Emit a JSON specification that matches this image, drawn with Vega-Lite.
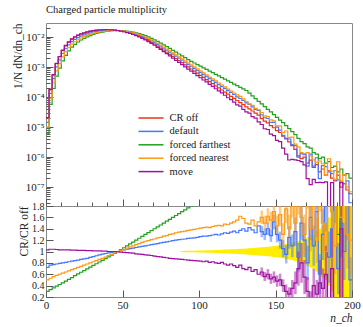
{
"$schema":"https://vega.github.io/schema/vega-lite/v6.json",
"padding":{"left":11,"top":4,"right":4,"bottom":2},
"spacing":0,
"bounds":"flush",
"config":{"font":"Liberation Serif","view":{"stroke":"#888","strokeWidth":1},
"axis":{"labelFont":"Liberation Serif","titleFont":"Liberation Serif","labelFontSize":11,"titleFontSize":11.5,"titleFontWeight":"normal","grid":false,"domain":false,"tickColor":"#555","labelColor":"#222","titleColor":"#222","labelOverlap":false,"labelFlush":false,"labelBound":false}},
"resolve":{"scale":{"color":"independent"}},
"datasets":{
"h":[
{"x":0,"r":2.0e-5,"b":1.44e-5,"g":6.0e-6,"o":1.0e-5,"m":2.06e-5,"rb":0.72,"rg":0.30,"ro":0.50,"rm":1.03},
{"x":2,"r":1.74e-4,"b":1.32e-4,"g":5.74e-5,"o":9.22e-5,"m":1.81e-4,"rb":0.76,"rg":0.33,"ro":0.53,"rm":1.04},
{"x":4,"r":5.37e-4,"b":4.13e-4,"g":1.93e-4,"o":3.01e-4,"m":5.58e-4,"rb":0.77,"rg":0.36,"ro":0.56,"rm":1.04},
{"x":6,"r":1.29e-3,"b":1.01e-3,"g":5.03e-4,"o":7.48e-4,"m":1.335e-3,"rb":0.78,"rg":0.39,"ro":0.58,"rm":1.035},
{"x":8,"r":2.19e-3,"b":1.73e-3,"g":9.2e-4,"o":1.31e-3,"m":2.256e-3,"rb":0.79,"rg":0.42,"ro":0.60,"rm":1.03},
{"x":10,"r":3.55e-3,"b":2.84e-3,"g":1.6e-3,"o":2.2e-3,"m":3.657e-3,"rb":0.80,"rg":0.45,"ro":0.62,"rm":1.03},
{"x":12,"r":5.13e-3,"b":4.16e-3,"g":2.46e-3,"o":3.28e-3,"m":5.28e-3,"rb":0.81,"rg":0.48,"ro":0.64,"rm":1.03},
{"x":14,"r":6.76e-3,"b":5.54e-3,"g":3.45e-3,"o":4.46e-3,"m":6.96e-3,"rb":0.82,"rg":0.51,"ro":0.66,"rm":1.03},
{"x":16,"r":8.51e-3,"b":7.06e-3,"g":4.6e-3,"o":5.79e-3,"m":8.72e-3,"rb":0.83,"rg":0.54,"ro":0.68,"rm":1.025},
{"x":18,"r":1.0e-2,"b":8.4e-3,"g":5.75e-3,"o":7.0e-3,"m":1.025e-2,"rb":0.84,"rg":0.575,"ro":0.70,"rm":1.025},
{"x":20,"r":1.135e-2,"b":9.65e-3,"g":6.87e-3,"o":8.17e-3,"m":1.158e-2,"rb":0.85,"rg":0.605,"ro":0.72,"rm":1.02},
{"x":22,"r":1.259e-2,"b":1.083e-2,"g":7.99e-3,"o":9.32e-3,"m":1.284e-2,"rb":0.86,"rg":0.635,"ro":0.74,"rm":1.02},
{"x":24,"r":1.365e-2,"b":1.188e-2,"g":9.08e-3,"o":1.037e-2,"m":1.392e-2,"rb":0.87,"rg":0.665,"ro":0.76,"rm":1.02},
{"x":26,"r":1.462e-2,"b":1.287e-2,"g":1.016e-2,"o":1.14e-2,"m":1.484e-2,"rb":0.88,"rg":0.695,"ro":0.78,"rm":1.015},
{"x":28,"r":1.549e-2,"b":1.386e-2,"g":1.123e-2,"o":1.239e-2,"m":1.572e-2,"rb":0.895,"rg":0.725,"ro":0.80,"rm":1.015},
{"x":30,"r":1.622e-2,"b":1.476e-2,"g":1.225e-2,"o":1.33e-2,"m":1.638e-2,"rb":0.91,"rg":0.755,"ro":0.82,"rm":1.01},
{"x":32,"r":1.679e-2,"b":1.553e-2,"g":1.318e-2,"o":1.41e-2,"m":1.696e-2,"rb":0.925,"rg":0.785,"ro":0.84,"rm":1.01},
{"x":34,"r":1.718e-2,"b":1.615e-2,"g":1.4e-2,"o":1.477e-2,"m":1.735e-2,"rb":0.94,"rg":0.815,"ro":0.86,"rm":1.01},
{"x":36,"r":1.746e-2,"b":1.667e-2,"g":1.475e-2,"o":1.536e-2,"m":1.755e-2,"rb":0.955,"rg":0.845,"ro":0.88,"rm":1.005},
{"x":38,"r":1.758e-2,"b":1.696e-2,"g":1.538e-2,"o":1.582e-2,"m":1.767e-2,"rb":0.965,"rg":0.875,"ro":0.90,"rm":1.005},
{"x":40,"r":1.754e-2,"b":1.71e-2,"g":1.587e-2,"o":1.631e-2,"m":1.754e-2,"rb":0.975,"rg":0.905,"ro":0.93,"rm":1.0},
{"x":42,"r":1.738e-2,"b":1.712e-2,"g":1.625e-2,"o":1.651e-2,"m":1.738e-2,"rb":0.985,"rg":0.935,"ro":0.95,"rm":1.0},
{"x":44,"r":1.706e-2,"b":1.694e-2,"g":1.646e-2,"o":1.663e-2,"m":1.706e-2,"rb":0.993,"rg":0.965,"ro":0.975,"rm":1.0},
{"x":46,"r":1.66e-2,"b":1.66e-2,"g":1.66e-2,"o":1.66e-2,"m":1.652e-2,"rb":1.0,"rg":1.0,"ro":1.0,"rm":0.995},
{"x":48,"r":1.6e-2,"b":1.624e-2,"g":1.653e-2,"o":1.632e-2,"m":1.584e-2,"rb":1.015,"rg":1.033,"ro":1.02,"rm":0.99},
{"x":50,"r":1.528e-2,"b":1.574e-2,"g":1.629e-2,"o":1.589e-2,"m":1.505e-2,"rb":1.03,"rg":1.066,"ro":1.04,"rm":0.985},
{"x":52,"r":1.445e-2,"b":1.503e-2,"g":1.59e-2,"o":1.532e-2,"m":1.416e-2,"rb":1.04,"rg":1.1,"ro":1.06,"rm":0.98},
{"x":54,"r":1.355e-2,"b":1.423e-2,"g":1.535e-2,"o":1.463e-2,"m":1.321e-2,"rb":1.05,"rg":1.133,"ro":1.08,"rm":0.975},
{"x":56,"r":1.259e-2,"b":1.335e-2,"g":1.468e-2,"o":1.385e-2,"m":1.221e-2,"rb":1.06,"rg":1.166,"ro":1.10,"rm":0.97},
{"x":58,"r":1.159e-2,"b":1.24e-2,"g":1.391e-2,"o":1.298e-2,"m":1.113e-2,"rb":1.07,"rg":1.2,"ro":1.12,"rm":0.96},
{"x":60,"r":1.057e-2,"b":1.142e-2,"g":1.303e-2,"o":1.205e-2,"m":1.009e-2,"rb":1.08,"rg":1.233,"ro":1.14,"rm":0.955},
{"x":62,"r":9.55e-3,"b":1.041e-2,"g":1.209e-2,"o":1.108e-2,"m":9.07e-3,"rb":1.09,"rg":1.266,"ro":1.16,"rm":0.95},
{"x":64,"r":8.55e-3,"b":9.41e-3,"g":1.112e-2,"o":1.009e-2,"m":8.04e-3,"rb":1.1,"rg":1.3,"ro":1.18,"rm":0.94},
{"x":66,"r":7.59e-3,"b":8.42e-3,"g":1.012e-2,"o":9.03e-3,"m":7.1e-3,"rb":1.11,"rg":1.333,"ro":1.19,"rm":0.935},
{"x":68,"r":6.67e-3,"b":7.47e-3,"g":9.11e-3,"o":8.07e-3,"m":6.2e-3,"rb":1.12,"rg":1.366,"ro":1.21,"rm":0.93},
{"x":70,"r":5.81e-3,"b":6.57e-3,"g":8.13e-3,"o":7.09e-3,"m":5.35e-3,"rb":1.13,"rg":1.4,"ro":1.22,"rm":0.92},
{"x":72,"r":5.01e-3,"b":5.71e-3,"g":7.18e-3,"o":6.21e-3,"m":4.56e-3,"rb":1.14,"rg":1.433,"ro":1.24,"rm":0.91},
{"x":74,"r":4.31e-3,"b":4.96e-3,"g":6.32e-3,"o":5.39e-3,"m":3.9e-3,"rb":1.15,"rg":1.466,"ro":1.25,"rm":0.905},
{"x":76,"r":3.68e-3,"b":4.27e-3,"g":5.52e-3,"o":4.67e-3,"m":3.29e-3,"rb":1.16,"rg":1.5,"ro":1.27,"rm":0.895},
{"x":78,"r":3.13e-3,"b":3.66e-3,"g":4.8e-3,"o":4.01e-3,"m":2.79e-3,"rb":1.17,"rg":1.533,"ro":1.28,"rm":0.89},
{"x":80,"r":2.67e-3,"b":3.15e-3,"g":4.18e-3,"o":3.47e-3,"m":2.35e-3,"rb":1.18,"rg":1.566,"ro":1.3,"rm":0.88},
{"x":82,"r":2.27e-3,"b":2.7e-3,"g":3.63e-3,"o":2.97e-3,"m":1.99e-3,"rb":1.19,"rg":1.6,"ro":1.31,"rm":0.875},
{"x":84,"r":1.93e-3,"b":2.32e-3,"g":3.15e-3,"o":2.57e-3,"m":1.68e-3,"rb":1.2,"rg":1.633,"ro":1.33,"rm":0.87},
{"x":86,"r":1.64e-3,"b":1.98e-3,"g":2.73e-3,"o":2.2e-3,"m":1.42e-3,"rb":1.21,"rg":1.666,"ro":1.34,"rm":0.865},
{"x":88,"r":1.4e-3,"b":1.7e-3,"g":2.38e-3,"o":1.89e-3,"m":1.2e-3,"rb":1.215,"rg":1.7,"ro":1.35,"rm":0.86},
{"x":90,"r":1.19e-3,"b":1.45e-3,"g":2.06e-3,"o":1.62e-3,"m":1.02e-3,"rb":1.22,"rg":1.733,"ro":1.36,"rm":0.855},
{"x":92,"r":1.01e-3,"b":1.24e-3,"g":1.78e-3,"o":1.38e-3,"m":8.59e-4,"rb":1.23,"rg":1.766,"ro":1.37,"rm":0.85},
{"x":94,"r":8.63e-4,"b":1.066e-3,"g":1.55e-3,"o":1.19e-3,"m":7.29e-4,"rb":1.235,"rg":1.8,"ro":1.38,"rm":0.845},
{"x":96,"r":7.35e-4,"b":9.11e-4,"g":1.37e-3,"o":1.02e-3,"m":6.17e-4,"rb":1.24,"rg":1.86,"ro":1.39,"rm":0.84},
{"x":98,"r":6.25e-4,"b":7.81e-4,"g":1.21e-3,"o":8.75e-4,"m":5.22e-4,"rb":1.25,"rg":1.94,"ro":1.4,"rm":0.835},
{"x":100,"r":5.32e-4,"b":6.7e-4,"g":1.07e-3,"o":7.5e-4,"m":4.42e-4,"rb":1.26,"rg":2.01,"ro":1.41,"rm":0.83},
{"x":102,"r":4.53e-4,"b":5.75e-4,"g":9.44e-4,"o":6.43e-4,"m":3.71e-4,"rb":1.27,"rg":2.08,"ro":1.42,"rm":0.82},
{"x":104,"r":3.85e-4,"b":4.89e-4,"g":8.34e-4,"o":5.51e-4,"m":3.2e-4,"rb":1.27,"rg":2.17,"ro":1.43,"rm":0.83},
{"x":106,"r":3.28e-4,"b":4.2e-4,"g":7.36e-4,"o":4.66e-4,"m":2.66e-4,"rb":1.28,"rg":2.24,"ro":1.42,"rm":0.81},
{"x":108,"r":2.79e-4,"b":3.6e-4,"g":6.5e-4,"o":4.02e-4,"m":2.29e-4,"rb":1.29,"rg":2.33,"ro":1.44,"rm":0.82},
{"x":110,"r":2.38e-4,"b":3.09e-4,"g":5.74e-4,"o":3.45e-4,"m":1.9e-4,"rb":1.3,"rg":2.41,"ro":1.45,"rm":0.8},
{"x":112,"r":2.02e-4,"b":2.61e-4,"g":5.07e-4,"o":2.95e-4,"m":1.6e-4,"rb":1.29,"rg":2.51,"ro":1.46,"rm":0.79},
{"x":114,"r":1.72e-4,"b":2.25e-4,"g":4.48e-4,"o":2.49e-4,"m":1.39e-4,"rb":1.31,"rg":2.6,"ro":1.45,"rm":0.81},
{"x":116,"r":1.47e-4,"b":1.96e-4,"g":3.95e-4,"o":2.18e-4,"m":1.15e-4,"rb":1.33,"rg":2.69,"ro":1.48,"rm":0.78},
{"x":118,"r":1.25e-4,"b":1.65e-4,"g":3.49e-4,"o":1.84e-4,"m":9.5e-5,"rb":1.32,"rg":2.79,"ro":1.47,"rm":0.76},
{"x":120,"r":1.06e-4,"b":1.42e-4,"g":3.08e-4,"o":1.59e-4,"m":8.27e-5,"rb":1.34,"rg":2.9,"ro":1.5,"rm":0.78},
{"x":122,"r":9.03e-5,"b":1.23e-4,"g":2.72e-4,"o":1.37e-4,"m":6.77e-5,"rb":1.36,"rg":3.01,"ro":1.52,"rm":0.75},
{"x":124,"r":7.69e-5,"b":1.02e-4,"g":2.4e-4,"o":1.19e-4,"m":5.54e-5,"rb":1.33,"rg":3.12,"ro":1.55,"rm":0.72},
{"x":126,"r":6.55e-5,"b":8.97e-5,"g":2.12e-4,"o":1.06e-4,"m":4.98e-5,"rb":1.37,"rg":3.24,"ro":1.62,"rm":0.76},
{"x":128,"r":5.57e-5,"b":7.8e-5,"g":1.87e-4,"o":8.8e-5,"m":3.9e-5,"rb":1.4,"rg":3.36,"ro":1.58,"rm":0.7},
{"x":130,"r":4.74e-5,"b":6.45e-5,"g":1.66e-4,"o":7.11e-5,"m":3.22e-5,"rb":1.36,"rg":3.5,"ro":1.5,"rm":0.68},
{"x":132,"r":4.04e-5,"b":5.74e-5,"g":1.35e-4,"o":5.98e-5,"m":2.91e-5,"rb":1.42,"rg":3.34,"ro":1.48,"rm":0.72},
{"x":134,"r":3.44e-5,"b":4.75e-5,"g":1.1e-4,"o":5.33e-5,"m":2.24e-5,"rb":1.38,"rg":3.2,"ro":1.55,"rm":0.65},
{"x":136,"r":2.92e-5,"b":3.88e-5,"g":8.9e-5,"o":4.23e-5,"m":1.99e-5,"rb":1.33,"rg":3.05,"ro":1.45,"rm":0.68},
{"x":138,"r":2.49e-5,"b":3.61e-5,"g":7.2e-5,"o":3.78e-5,"m":1.49e-5,"rb":1.45,"rg":2.9,"ro":1.52,"rm":0.6},
{"x":140,"r":1.91e-5,"b":2.58e-5,"g":5.9e-5,"o":3.06e-5,"m":1.22e-5,"rb":1.35,"rg":3.09,"ro":1.6,"rm":0.64},
{"x":142,"r":1.58e-5,"b":2.05e-5,"g":4.8e-5,"o":2.37e-5,"m":8.8e-6,"rb":1.3,"rg":3.04,"ro":1.5,"rm":0.56},
{"x":144,"r":1.38e-5,"b":1.93e-5,"g":3.9e-5,"o":2.24e-5,"m":8.3e-6,"rb":1.4,"rg":2.83,"ro":1.62,"rm":0.6},
{"x":146,"r":1.12e-5,"b":1.43e-5,"g":3.2e-5,"o":1.74e-5,"m":5.8e-6,"rb":1.28,"rg":2.86,"ro":1.55,"rm":0.52},
{"x":148,"r":9.5e-6,"b":1.44e-5,"g":2.6e-5,"o":1.62e-5,"m":5.2e-6,"rb":1.52,"rg":2.74,"ro":1.7,"rm":0.55},
{"x":150,"r":7.6e-6,"b":9.9e-6,"g":2.1e-5,"o":1.1e-5,"m":3.6e-6,"rb":1.3,"rg":2.76,"ro":1.45,"rm":0.48},
{"x":152,"r":6.6e-6,"b":7.9e-6,"g":1.7e-5,"o":1.09e-5,"m":3.3e-6,"rb":1.2,"rg":2.58,"ro":1.65,"rm":0.5},
{"x":154,"r":5.0e-6,"b":5.3e-6,"g":1.4e-5,"o":6.5e-6,"m":2.0e-6,"rb":1.05,"rg":2.8,"ro":1.3,"rm":0.4},
{"x":156,"r":4.2e-6,"b":4.0e-6,"g":1.12e-5,"o":7.4e-6,"m":1.26e-6,"rb":0.95,"rg":2.67,"ro":1.75,"rm":0.3},
{"x":158,"r":3.2e-6,"b":4.0e-6,"g":8.9e-6,"o":4.5e-6,"m":8.0e-7,"rb":1.25,"rg":2.78,"ro":1.4,"rm":0.25},
{"x":160,"r":2.4e-6,"b":2.6e-6,"g":7.1e-6,"o":4.6e-6,"m":8.4e-7,"rb":1.1,"rg":2.96,"ro":1.9,"rm":0.35},
{"x":162,"r":1.8e-6,"b":2.4e-6,"g":5.6e-6,"o":2.7e-6,"m":8.1e-7,"rb":1.35,"rg":3.1,"ro":1.5,"rm":0.45},
{"x":164,"r":1.1e-6,"b":1.0e-6,"g":4.2e-6,"o":2.2e-6,"m":7.7e-7,"rb":0.9,"rg":3.8,"ro":2.0,"rm":0.7},
{"x":166,"r":8.9e-7,"b":1.3e-6,"g":3.3e-6,"o":1.4e-6,"m":7.1e-7,"rb":1.5,"rg":3.7,"ro":1.6,"rm":0.8},
{"x":168,"r":1.0e-6,"b":1.2e-6,"g":2.8e-6,"o":1.3e-6,"m":5.5e-7,"rb":1.2,"rg":2.8,"ro":1.3,"rm":0.55},
{"x":170,"r":6.3e-7,"b":5.0e-7,"g":2.2e-6,"o":1.4e-6,"m":1.9e-7,"rb":0.8,"rg":3.5,"ro":2.2,"rm":0.3},
{"x":172,"r":7.9e-7,"b":1.26e-6,"g":2.0e-6,"o":1.1e-6,"m":1.2e-7,"rb":1.6,"rg":2.5,"ro":1.4,"rm":0.15},
{"x":174,"r":4.5e-7,"b":5.0e-7,"g":1.4e-6,"o":8.1e-7,"m":1.8e-7,"rb":1.1,"rg":3.1,"ro":1.8,"rm":0.4},
{"x":176,"r":5.6e-7,"b":9.5e-7,"g":1.26e-6,"o":6.7e-7,"m":1.4e-7,"rb":1.7,"rg":2.25,"ro":1.2,"rm":0.25},
{"x":178,"r":3.2e-7,"b":1.9e-7,"g":8.9e-7,"o":7.4e-7,"m":1.44e-7,"rb":0.6,"rg":2.8,"ro":2.3,"rm":0.45},
{"x":180,"r":4.0e-7,"b":5.2e-7,"g":1.0e-6,"o":6.0e-7,"m":1.4e-7,"rb":1.3,"rg":2.5,"ro":1.5,"rm":0.35},
{"x":182,"r":2.5e-7,"b":4.8e-7,"g":6.3e-7,"o":2.5e-7,"m":1.5e-7,"rb":1.9,"rg":2.5,"ro":1.0,"rm":0.6},
{"x":184,"r":3.5e-7,"b":3.2e-7,"g":7.1e-7,"o":8.8e-7,"m":1e-10,"rb":0.9,"rg":2.0,"ro":2.5,"rm":0},
{"x":186,"r":2.0e-7,"b":2.8e-7,"g":4.5e-7,"o":3.4e-7,"m":1.4e-7,"rb":1.4,"rg":2.25,"ro":1.7,"rm":0.7},
{"x":188,"r":1.6e-7,"b":3.5e-7,"g":5.0e-7,"o":1.8e-7,"m":1e-10,"rb":2.2,"rg":3.1,"ro":1.1,"rm":0},
{"x":190,"r":2.5e-7,"b":1.75e-7,"g":3.2e-7,"o":7.0e-7,"m":1e-10,"rb":0.7,"rg":1.3,"ro":2.8,"rm":0},
{"x":192,"r":1.0e-7,"b":1.5e-7,"g":4.0e-7,"o":1.6e-7,"m":1.4e-7,"rb":1.5,"rg":4.0,"ro":1.6,"rm":1.4},
{"x":194,"r":1.3e-7,"b":1.3e-7,"g":2.5e-7,"o":2.6e-7,"m":1e-10,"rb":1.0,"rg":1.9,"ro":2.0,"rm":0},
{"x":196,"r":8e-8,"b":1.6e-7,"g":2.8e-7,"o":1.0e-7,"m":1e-10,"rb":2.0,"rg":3.5,"ro":1.3,"rm":0},
{"x":198,"r":6e-8,"b":3e-8,"g":2.0e-7,"o":7e-8,"m":1e-10,"rb":0.5,"rg":3.3,"ro":1.2,"rm":0},
{"x":200,"r":6e-8,"b":3e-8,"g":2.0e-7,"o":7e-8,"m":1e-10,"rb":0.5,"rg":3.3,"ro":1.2,"rm":0}
],
"band":[
{"x":88,"lo":0.99,"hi":1.01},{"x":90,"lo":0.988,"hi":1.012},{"x":92,"lo":0.987,"hi":1.013},{"x":94,"lo":0.986,"hi":1.014},{"x":96,"lo":0.985,"hi":1.015},{"x":98,"lo":0.984,"hi":1.016},{"x":100,"lo":0.982,"hi":1.018},{"x":102,"lo":0.981,"hi":1.019},{"x":104,"lo":0.98,"hi":1.02},{"x":106,"lo":0.978,"hi":1.022},{"x":108,"lo":0.976,"hi":1.024},{"x":110,"lo":0.974,"hi":1.026},{"x":112,"lo":0.972,"hi":1.028},{"x":114,"lo":0.97,"hi":1.03},{"x":116,"lo":0.967,"hi":1.033},{"x":118,"lo":0.965,"hi":1.035},{"x":120,"lo":0.962,"hi":1.038},{"x":122,"lo":0.959,"hi":1.041},{"x":124,"lo":0.956,"hi":1.044},{"x":126,"lo":0.953,"hi":1.047},{"x":128,"lo":0.95,"hi":1.05},{"x":130,"lo":0.946,"hi":1.054},{"x":132,"lo":0.942,"hi":1.058},{"x":134,"lo":0.938,"hi":1.062},{"x":136,"lo":0.934,"hi":1.066},{"x":138,"lo":0.93,"hi":1.07},{"x":140,"lo":0.925,"hi":1.075},{"x":142,"lo":0.92,"hi":1.08},{"x":144,"lo":0.915,"hi":1.085},{"x":146,"lo":0.91,"hi":1.09},{"x":148,"lo":0.905,"hi":1.095},{"x":150,"lo":0.9,"hi":1.1},{"x":152,"lo":0.89,"hi":1.11},{"x":154,"lo":0.88,"hi":1.12},{"x":156,"lo":0.87,"hi":1.13},{"x":158,"lo":0.86,"hi":1.14},{"x":160,"lo":0.85,"hi":1.15},{"x":162,"lo":0.83,"hi":1.17},{"x":164,"lo":0.82,"hi":1.18},{"x":166,"lo":0.8,"hi":1.2},{"x":168,"lo":0.78,"hi":1.22},{"x":170,"lo":0.75,"hi":1.25},{"x":172,"lo":0.72,"hi":1.28},{"x":174,"lo":0.7,"hi":1.3},{"x":176,"lo":0.65,"hi":1.35},{"x":178,"lo":0.6,"hi":1.4},{"x":180,"lo":0.55,"hi":1.45},{"x":182,"lo":0.5,"hi":1.5},{"x":184,"lo":0.4,"hi":1.6},{"x":186,"lo":0.3,"hi":1.7},{"x":188,"lo":0.2,"hi":1.8},{"x":190,"lo":0.2,"hi":1.8},{"x":192,"lo":0.15,"hi":1.85},{"x":194,"lo":0.1,"hi":1.9},{"x":196,"lo":0.1,"hi":1.9},{"x":198,"lo":0.0,"hi":2.0},{"x":200,"lo":0.0,"hi":2.0}
],
"err":[
{"x":141,"s":"rb","lo":1.25,"hi":1.45},{"x":143,"s":"rb","lo":1.2,"hi":1.4},{"x":145,"s":"rb","lo":1.29,"hi":1.51},{"x":147,"s":"rb","lo":1.17,"hi":1.39},{"x":149,"s":"rb","lo":1.39,"hi":1.65},{"x":151,"s":"rb","lo":1.16,"hi":1.44},{"x":153,"s":"rb","lo":1.05,"hi":1.35},{"x":155,"s":"rb","lo":0.9,"hi":1.2},{"x":157,"s":"rb","lo":0.79,"hi":1.11},{"x":159,"s":"rb","lo":1.05,"hi":1.45},{"x":161,"s":"rb","lo":0.9,"hi":1.3},{"x":163,"s":"rb","lo":1.1,"hi":1.6},{"x":165,"s":"rb","lo":0.65,"hi":1.15},{"x":167,"s":"rb","lo":1.2,"hi":1.8},{"x":169,"s":"rb","lo":0.9,"hi":1.5},{"x":171,"s":"rb","lo":0.5,"hi":1.1},{"x":173,"s":"rb","lo":1.2,"hi":2.0},{"x":175,"s":"rb","lo":0.75,"hi":1.45},{"x":177,"s":"rb","lo":1.25,"hi":2.15},{"x":179,"s":"rb","lo":0.25,"hi":0.95},{"x":181,"s":"rb","lo":0.85,"hi":1.75},{"x":183,"s":"rb","lo":1.35,"hi":2.45},{"x":185,"s":"rb","lo":0.45,"hi":1.35},{"x":187,"s":"rb","lo":0.9,"hi":1.9},{"x":189,"s":"rb","lo":1.5,"hi":2.9},{"x":191,"s":"rb","lo":0.25,"hi":1.15},{"x":193,"s":"rb","lo":0.9,"hi":2.1},{"x":195,"s":"rb","lo":0.5,"hi":1.5},{"x":197,"s":"rb","lo":1.2,"hi":2.8},{"x":199,"s":"rb","lo":0.1,"hi":0.9},
{"x":141,"s":"ro","lo":1.48,"hi":1.72},{"x":143,"s":"ro","lo":1.37,"hi":1.63},{"x":145,"s":"ro","lo":1.48,"hi":1.76},{"x":147,"s":"ro","lo":1.4,"hi":1.7},{"x":149,"s":"ro","lo":1.54,"hi":1.86},{"x":151,"s":"ro","lo":1.27,"hi":1.63},{"x":153,"s":"ro","lo":1.45,"hi":1.85},{"x":155,"s":"ro","lo":1.1,"hi":1.5},{"x":157,"s":"ro","lo":1.5,"hi":2.0},{"x":159,"s":"ro","lo":1.15,"hi":1.65},{"x":161,"s":"ro","lo":1.6,"hi":2.2},{"x":163,"s":"ro","lo":1.2,"hi":1.8},{"x":165,"s":"ro","lo":1.65,"hi":2.35},{"x":167,"s":"ro","lo":1.25,"hi":1.95},{"x":169,"s":"ro","lo":0.95,"hi":1.65},{"x":171,"s":"ro","lo":1.75,"hi":2.65},{"x":173,"s":"ro","lo":1.0,"hi":1.8},{"x":175,"s":"ro","lo":1.3,"hi":2.3},{"x":177,"s":"ro","lo":0.8,"hi":1.6},{"x":179,"s":"ro","lo":1.7,"hi":2.9},{"x":181,"s":"ro","lo":1.0,"hi":2.0},{"x":183,"s":"ro","lo":0.55,"hi":1.45},{"x":185,"s":"ro","lo":1.8,"hi":3.2},{"x":187,"s":"ro","lo":1.1,"hi":2.3},{"x":189,"s":"ro","lo":0.6,"hi":1.6},{"x":191,"s":"ro","lo":2.0,"hi":3.6},{"x":193,"s":"ro","lo":1.0,"hi":2.2},{"x":195,"s":"ro","lo":1.3,"hi":2.7},{"x":197,"s":"ro","lo":0.7,"hi":1.9},{"x":199,"s":"ro","lo":0.6,"hi":1.8},
{"x":141,"s":"rm","lo":0.56,"hi":0.72},{"x":143,"s":"rm","lo":0.48,"hi":0.64},{"x":145,"s":"rm","lo":0.51,"hi":0.69},{"x":147,"s":"rm","lo":0.43,"hi":0.61},{"x":149,"s":"rm","lo":0.45,"hi":0.65},{"x":151,"s":"rm","lo":0.38,"hi":0.58},{"x":153,"s":"rm","lo":0.39,"hi":0.61},{"x":155,"s":"rm","lo":0.29,"hi":0.51},{"x":157,"s":"rm","lo":0.18,"hi":0.42},{"x":159,"s":"rm","lo":0.13,"hi":0.37},{"x":161,"s":"rm","lo":0.2,"hi":0.5},{"x":163,"s":"rm","lo":0.25,"hi":0.65},{"x":165,"s":"rm","lo":0.4,"hi":1.0},{"x":167,"s":"rm","lo":0.45,"hi":1.15},{"x":169,"s":"rm","lo":0.25,"hi":0.85},{"x":171,"s":"rm","lo":0.05,"hi":0.55},{"x":173,"s":"rm","lo":0.0,"hi":0.3},{"x":175,"s":"rm","lo":0.1,"hi":0.7},{"x":177,"s":"rm","lo":0.0,"hi":0.5},{"x":179,"s":"rm","lo":0.05,"hi":0.85},{"x":181,"s":"rm","lo":0.0,"hi":0.7},{"x":183,"s":"rm","lo":0.1,"hi":1.1},{"x":187,"s":"rm","lo":0.0,"hi":1.4},{"x":193,"s":"rm","lo":0.0,"hi":2.8}
]},
"vconcat":[
{"width":306,"height":183,
"title":{"text":"Charged particle multiplicity","anchor":"start","frame":"group","fontSize":10.5,"fontWeight":"normal","font":"Liberation Serif","color":"#222","offset":7},
"data":{"name":"h"},
"transform":[{"fold":["r","b","g","o","m"],"as":["s","v"]}],
"mark":{"type":"line","interpolate":"step-after","strokeWidth":1.2,"clip":true},
"encoding":{
"x":{"field":"x","type":"quantitative","scale":{"domain":[0,200],"nice":false,"zero":false},
"axis":{"title":null,"labels":false,"values":[0,10,20,30,40,50,60,70,80,90,100,110,120,130,140,150,160,170,180,190,200],"tickSize":{"condition":{"test":"datum.value % 50 === 0","value":-7},"value":-4},"domain":true,"domainColor":"#333"}},
"y":{"field":"v","type":"quantitative","scale":{"type":"log","domain":[2.34e-8,0.0295],"nice":false},
"axis":{"title":"1/N dN/dn_ch","titleAnchor":"end","titlePadding":2,"labelPadding":9,"labelOverlap":false,
"values":[3e-8,4e-8,5e-8,6e-8,7e-8,8e-8,9e-8,1e-7,2e-7,3e-7,4e-7,5e-7,6e-7,7e-7,8e-7,9e-7,1e-6,2e-6,3e-6,4e-6,5e-6,6e-6,7e-6,8e-6,9e-6,1e-5,2e-5,3e-5,4e-5,5e-5,6e-5,7e-5,8e-5,9e-5,1e-4,2e-4,3e-4,4e-4,5e-4,6e-4,7e-4,8e-4,9e-4,1e-3,2e-3,3e-3,4e-3,5e-3,6e-3,7e-3,8e-3,9e-3,1e-2,2e-2],
"labelExpr":"abs(log(datum.value)/LN10 - round(log(datum.value)/LN10)) < 0.01 ? '10' + ['⁰','⁻¹','⁻²','⁻³','⁻⁴','⁻⁵','⁻⁶','⁻⁷','⁻⁸'][round(-log(datum.value)/LN10)] : ''",
"tickSize":{"condition":{"test":"abs(log(datum.value)/LN10 - round(log(datum.value)/LN10)) < 0.01","value":-7},"value":-4}}},
"color":{"field":"s","type":"nominal","scale":{"domain":["r","b","g","o","m"],"range":["#EE3311","#4477FF","#22A022","#FF9911","#A010A0"]},
"legend":{"orient":"none","legendX":98,"legendY":88,"title":null,"padding":0,"symbolType":"M-2,0H2","symbolSize":156,"symbolStrokeWidth":1.5,"labelFont":"Liberation Serif","labelFontSize":10.5,"labelColor":"#222","rowPadding":0.4,"labelOffset":11.5,
"labelExpr":"datum.label == 'r' ? 'CR off' : datum.label == 'b' ? 'default' : datum.label == 'g' ? 'forced farthest' : datum.label == 'o' ? 'forced nearest' : 'move'"}}
}},
{"width":306,"height":91,
"layer":[
{"data":{"name":"band"},"mark":{"type":"area","interpolate":"step-after","color":"#FFEE00","clip":true},
"encoding":{
"x":{"field":"x","type":"quantitative","scale":{"domain":[0,200],"nice":false,"zero":false},
"axis":{"title":"n_ch","titleAnchor":"end","titleFontStyle":"italic","titlePadding":2,"labelPadding":9,"labelOverlap":false,"values":[0,50,100,150,200],"tickSize":-7}},
"y":{"field":"lo","type":"quantitative","scale":{"domain":[0.2,1.8],"nice":false,"zero":false},
"axis":{"title":"CR/CR off","titleAnchor":"end","titlePadding":2,"labelPadding":9,"labelOverlap":false,"labelSeparation":-4,"labelFontSize":10,"values":[0.2,0.4,0.6,0.8,1,1.2,1.4,1.6,1.8],"labelExpr":"format(datum.value, '.1~f')","tickSize":-7}},
"y2":{"field":"hi"}}},
{"mark":{"type":"rule","color":"#7A6A00","strokeWidth":1.2},"encoding":{"y":{"datum":1,"type":"quantitative","axis":{"title":"CR/CR off","titleAnchor":"end","titlePadding":2,"labelPadding":9,"labelOverlap":false,"labelSeparation":-4,"labelFontSize":10,"values":[0.2,0.4,0.6,0.8,1,1.2,1.4,1.6,1.8],"labelExpr":"format(datum.value, '.1~f')","tickSize":-7}}}},
{"data":{"name":"err"},"mark":{"type":"rule","strokeWidth":2.5,"opacity":0.5,"clip":true},
"encoding":{"x":{"field":"x","type":"quantitative","axis":{"title":"n_ch","titleAnchor":"end","titleFontStyle":"italic","titlePadding":2,"labelPadding":9,"labelOverlap":false,"values":[0,50,100,150,200],"tickSize":-7}},"y":{"field":"lo","type":"quantitative","axis":{"title":"CR/CR off","titleAnchor":"end","titlePadding":2,"labelPadding":9,"labelOverlap":false,"labelSeparation":-4,"labelFontSize":10,"values":[0.2,0.4,0.6,0.8,1,1.2,1.4,1.6,1.8],"labelExpr":"format(datum.value, '.1~f')","tickSize":-7}},"y2":{"field":"hi"},
"color":{"field":"s","type":"nominal","scale":{"domain":["rb","rg","ro","rm"],"range":["#4477FF","#22A022","#FF9911","#A010A0"]},"legend":null}}},
{"data":{"name":"h"},"transform":[{"fold":["rb","rg","ro","rm"],"as":["s","v"]}],
"mark":{"type":"line","interpolate":"step-after","strokeWidth":1.2,"clip":true},
"encoding":{"x":{"field":"x","type":"quantitative","axis":{"title":"n_ch","titleAnchor":"end","titleFontStyle":"italic","titlePadding":2,"labelPadding":9,"labelOverlap":false,"values":[0,50,100,150,200],"tickSize":-7}},"y":{"field":"v","type":"quantitative","axis":{"title":"CR/CR off","titleAnchor":"end","titlePadding":2,"labelPadding":9,"labelOverlap":false,"labelSeparation":-4,"labelFontSize":10,"values":[0.2,0.4,0.6,0.8,1,1.2,1.4,1.6,1.8],"labelExpr":"format(datum.value, '.1~f')","tickSize":-7}},
"color":{"field":"s","type":"nominal","scale":{"domain":["rb","rg","ro","rm"],"range":["#4477FF","#22A022","#FF9911","#A010A0"]},"legend":null}}}
]}
]
}
